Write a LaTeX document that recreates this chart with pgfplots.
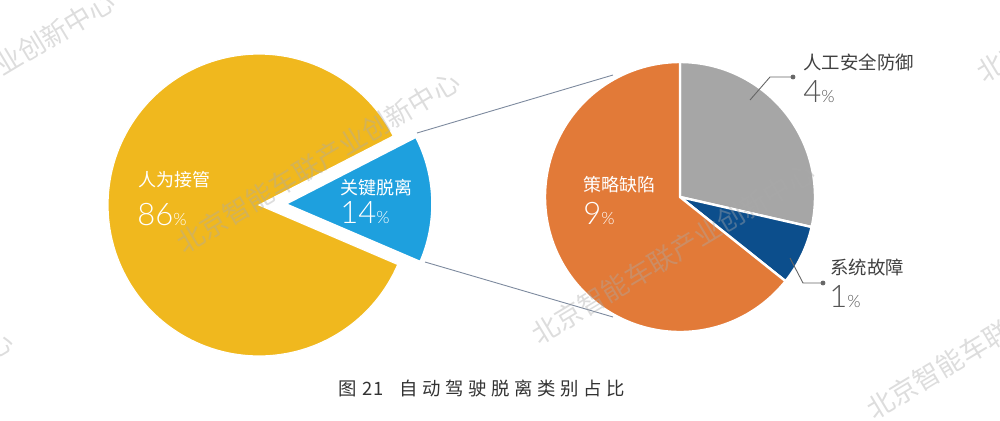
\documentclass[border=0pt]{standalone}
\usepackage{fontspec}
\usepackage{pgfplots}
\pgfplotsset{compat=1.18}
\setmainfont{Noto Sans CJK SC}
\newfontfamily\num{Lato Light}
\definecolor{cYel}{RGB}{240,184,30}
\definecolor{cBlue}{RGB}{30,160,222}
\definecolor{cOrg}{RGB}{226,122,56}
\definecolor{cGray}{RGB}{166,166,166}
\definecolor{cNavy}{RGB}{12,78,140}
\definecolor{cLine}{RGB}{125,138,158}
\definecolor{cTxt}{RGB}{64,64,64}
\definecolor{cNum}{RGB}{85,85,85}
\definecolor{cWm}{RGB}{170,170,170}
% data (percent)
\def\vA{86}% 人为接管
\def\vB{14}% 关键脱离
\def\vC{9}%  策略缺陷
\def\vD{4}%  人工安全防御
\def\vE{1}%  系统故障
\pgfmathsetmacro\half{\vB/(\vA+\vB)*180}
\pgfmathsetmacro\bS{2-\half}
\pgfmathsetmacro\bE{2+\half}
\pgfmathsetmacro\yE{360+\bS}
\pgfmathsetmacro\gE{90-\vD/\vB*360}
\pgfmathsetmacro\nE{\gE-\vE/\vB*360}
\begin{document}
\begin{tikzpicture}
\useasboundingbox (0,0) rectangle (500pt,210pt);
\clip (0,0) rectangle (500pt,210pt);
\begin{axis}[at={(0,0)},anchor=south west,scale only axis,width=500pt,height=210pt,
  xmin=0,xmax=1000,ymin=0,ymax=420,hide axis,clip=false]
% left pie
\addplot[fill=cYel,draw=white,line width=0.6pt,domain=\bE:\yE,samples=150,variable=\t]
  ({259+151*cos(\t)},{215+151*sin(\t)}) -- (axis cs:259,215) -- cycle;
\addplot[fill=cBlue,draw=white,line width=0.8pt,domain=\bS:\bE,samples=60,variable=\t]
  ({286+146*cos(\t)},{216+146*sin(\t)}) -- (axis cs:286,216) -- cycle;
% right pie
\addplot[fill=cGray,draw=white,line width=1.2pt,line join=round,domain=\gE:90,samples=60,variable=\t]
  ({680+135*cos(\t)},{223+135*sin(\t)}) -- (axis cs:680,223) -- cycle;
\addplot[fill=cNavy,draw=white,line width=1.2pt,line join=round,domain=\nE:\gE,samples=30,variable=\t]
  ({680+135*cos(\t)},{223+135*sin(\t)}) -- (axis cs:680,223) -- cycle;
\addplot[fill=cOrg,draw=white,line width=1.2pt,line join=round,domain=-270:\nE,samples=150,variable=\t]
  ({680+135*cos(\t)},{223+135*sin(\t)}) -- (axis cs:680,223) -- cycle;
% connector lines
\addplot[cLine,line width=0.45pt] coordinates {(417,287) (613,345)};
\addplot[cLine,line width=0.45pt] coordinates {(425,158) (613,103)};
% leader lines
\addplot[gray!80!black,line width=0.45pt] coordinates {(750,320) (770,343) (793,343)};
\addplot[only marks,mark=*,mark size=1pt,gray!80!black] coordinates {(793,343)};
\addplot[gray!80!black,line width=0.45pt] coordinates {(790,162) (803,137) (823,137)};
\addplot[only marks,mark=*,mark size=1pt,gray!80!black] coordinates {(823,137)};
% labels
\node[anchor=west,text=white,inner sep=0pt] at (axis cs:138,240) {\fontsize{9}{10}\selectfont 人为接管};
\node[anchor=base west,text=white,inner sep=0pt] at (axis cs:137,195) {\num\fontsize{15.5}{16}\selectfont 86\fontsize{8.5}{9}\selectfont\%};
\node[anchor=west,text=white,inner sep=0pt] at (axis cs:340,232) {\fontsize{9}{10}\selectfont 关键脱离};
\node[anchor=base west,text=white,inner sep=0pt] at (axis cs:340,197) {\num\fontsize{15.5}{16}\selectfont 14\fontsize{8.5}{9}\selectfont\%};
\node[anchor=west,text=white,inner sep=0pt] at (axis cs:583,235) {\fontsize{9}{10}\selectfont 策略缺陷};
\node[anchor=base west,text=white,inner sep=0pt] at (axis cs:583,196) {\num\fontsize{15.5}{16}\selectfont 9\fontsize{8.5}{9}\selectfont\%};
\node[anchor=west,text=cTxt,inner sep=0pt] at (axis cs:803,358) {\fontsize{9.2}{10}\selectfont 人工安全防御};
\node[anchor=base west,text=cNum,inner sep=0pt] at (axis cs:803,318) {\num\fontsize{15.5}{16}\selectfont 4\fontsize{8.5}{9}\selectfont\%};
\node[anchor=west,text=cTxt,inner sep=0pt] at (axis cs:830,153) {\fontsize{9.2}{10}\selectfont 系统故障};
\node[anchor=base west,text=cNum,inner sep=0pt] at (axis cs:829,113) {\num\fontsize{15.5}{16}\selectfont 1\fontsize{8.5}{9}\selectfont\%};
% caption
\node[anchor=west,text=black!80,inner sep=0pt] at (axis cs:338,32) {\fontsize{9.2}{10}\selectfont 图\hspace{3pt}21\hspace{8pt}{\addfontfeatures{LetterSpace=25}自动驾驶脱离类别占比}};
% watermarks
\begin{scope}[every node/.style={rotate=31,text=cWm,opacity=0.4,inner sep=0pt,font=\fontsize{13.5}{14}\selectfont}]
\node at (axis cs:318,258) {北京智能车联产业创新中心};
\node at (axis cs:673,167) {北京智能车联产业创新中心};
\node at (axis cs:-26,338) {北京智能车联产业创新中心};
\node at (axis cs:1008,92) {北京智能车联产业创新中心};
\node at (axis cs:1118,429) {北京智能车联产业创新中心};
\node at (axis cs:-128,-1) {北京智能车联产业创新中心};
\end{scope}
\end{axis}
\end{tikzpicture}
\end{document}
